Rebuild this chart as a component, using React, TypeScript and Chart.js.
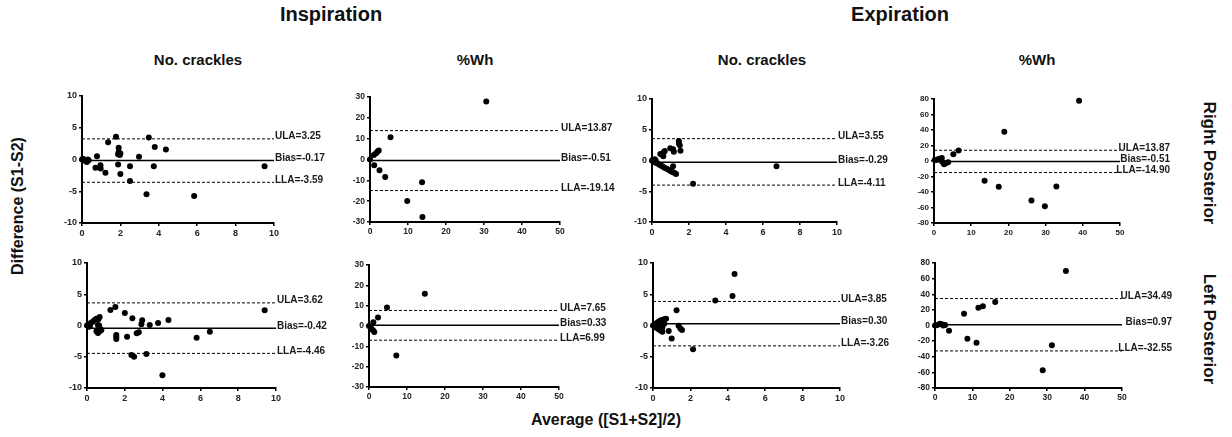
import React, { useEffect, useRef } from "react";
import { Chart, registerables } from "chart.js";

Chart.register(...registerables);

// ---------- data ----------
// Inspiration, Right Posterior, No. crackles
const insRightCracklesAvg = [0, 0.05, 0.15, 0.25, 0.3, 0.35, 0.78, 0.7, 0.96, 0.97, 1.22, 1.36, 1.77, 1.91, 1.91, 1.88, 2.0, 1.97, 1.88, 2.0, 2.5, 2.5, 2.97, 3.36, 3.48, 3.74, 3.79, 4.37, 5.84, 9.51];
const insRightCracklesDiff = [0, 0.1, -0.2, -0.4, 0, -0.1, 0.5, -1.3, -0.9, -1.4, -2.1, 2.7, 3.6, 1.84, 1.2, 0.84, 0.95, 0.7, -0.8, -2.3, -1.05, -3.37, 0.42, -5.47, 3.47, -1.05, 1.95, 1.58, -5.74, -1.05];
const insRightCracklesLines = [3.25, -0.17, -3.59];
const insRightCracklesLabels = ["ULA=3.25", "Bias=-0.17", "LLA=-3.59"];

// Inspiration, Right Posterior, %Wh
const insRightWhAvg = [0, 1.0, 1.1, 1.6, 2.0, 2.3, 2.5, 4.0, 5.4, 9.8, 13.7, 13.8, 30.6];
const insRightWhDiff = [0, 2.2, -2.7, 3.0, 3.9, 4.3, -5.2, -8.4, 10.7, -19.9, -10.9, -27.6, 27.9];
const insRightWhLines = [13.87, -0.51, -14.9];
const insRightWhLabels = ["ULA=13.87", "Bias=-0.51", "LLA=-19.14"];

// Expiration, Right Posterior, No. crackles
const expRightCracklesAvg = [0, 0.05, 0.15, 0.2, 0.1, 0.2, 0.3, 0.4, 0.5, 0.6, 0.7, 0.8, 0.9, 1.0, 1.1, 1.2, 1.3, 0.45, 0.54, 0.63, 0.69, 0.61, 0.99, 1.14, 1.18, 1.14, 1.45, 1.46, 1.5, 1.54, 2.22, 6.73];
const expRightCracklesDiff = [0, 0.1, 0.2, 0, -0.2, -0.35, -0.5, -0.7, -0.85, -1.0, -1.2, -1.35, -1.5, -1.7, -1.85, -2.0, -2.2, 1.07, 0.96, 1.33, 1.55, 0.68, 1.99, 1.82, 1.44, -0.95, 3.19, 2.75, 2.5, 1.6, -3.8, -0.95];
const expRightCracklesLines = [3.55, -0.29, -4.0];
const expRightCracklesLabels = ["ULA=3.55", "Bias=-0.29", "LLA=-4.11"];

// Expiration, Right Posterior, %Wh
const expRightWhAvg = [0.2, 0.6, 1.1, 1.5, 2.1, 2.2, 2.7, 3.1, 3.8, 5.2, 6.6, 13.6, 17.4, 18.9, 26.2, 29.8, 32.9, 39.0];
const expRightWhDiff = [1.3, 1.3, 2.2, 3.0, 3.9, -0.9, -4.3, -3.0, -1.7, 8.6, 13.4, -25.5, -33.3, 37.6, -51.0, -58.4, -32.9, 77.8];
const expRightWhLines = [13.87, -0.51, -14.9];
const expRightWhLabels = ["ULA=13.87", "Bias=-0.51", "LLA=-14.90"];

// Inspiration, Left Posterior, No. crackles
const insLeftCracklesAvg = [0, 0.1, 0.2, 0.3, 0.4, 0.5, 0.6, 0.67, 0.1, 0.15, 0.5, 0.58, 0.67, 0.67, 0.76, 0.64, 0.58, 1.24, 1.5, 1.55, 1.55, 1.55, 2.0, 2.12, 2.4, 2.35, 2.49, 2.63, 2.74, 2.92, 2.88, 3.14, 3.32, 3.76, 3.99, 4.31, 5.8, 6.5, 9.4];
const insLeftCracklesDiff = [0, 0.2, 0.4, 0.6, 0.9, 1.1, 1.0, 1.36, -0.2, -0.1, -0.9, -1.2, -0.9, -0.4, -0.7, 0, 0.1, 2.48, 2.96, -1.52, -1.84, -2.16, 2.0, -1.79, 1.15, -4.72, -4.99, -1.25, -1.09, 0.83, 0.19, -4.56, 0.08, 0.4, -7.97, 0.88, -1.95, -0.99, 2.43];
const insLeftCracklesLines = [3.62, -0.42, -4.46];
const insLeftCracklesLabels = ["ULA=3.62", "Bias=-0.42", "LLA=-4.46"];

// Inspiration, Left Posterior, %Wh
const insLeftWhAvg = [0, 0.6, 1.05, 1.4, 1.14, 2.37, 4.74, 7.19, 14.7];
const insLeftWhDiff = [0, -1.2, -2.05, -3.0, 1.9, 4.19, 9.12, -14.5, 15.9];
const insLeftWhLines = [7.65, 0.33, -6.99];
const insLeftWhLabels = ["ULA=7.65", "Bias=0.33", "LLA=6.99"];

// Expiration, Left Posterior, No. crackles
const expLeftCracklesAvg = [0, 0.1, 0.2, 0.3, 0.4, 0.5, 0.6, 0.7, 0.1, 0.2, 0.3, 0.4, 0.5, 0.2, 0.4, 0.5, 0.6, 0.84, 1.0, 1.26, 1.37, 1.46, 1.55, 2.14, 3.33, 4.25, 4.36];
const expLeftCracklesDiff = [0, 0.2, 0.4, 0.6, 0.8, 0.9, 1.0, 1.1, -0.2, -0.4, -0.6, -0.8, -1.0, 0, 0, -0.3, 0.3, -0.88, -2.06, 2.44, -0.03, -0.46, -0.72, -3.78, 3.99, 4.74, 8.23];
const expLeftCracklesLines = [3.85, 0.3, -3.26];
const expLeftCracklesLabels = ["ULA=3.85", "Bias=0.30", "LLA=-3.26"];

// Expiration, Left Posterior, %Wh
const expLeftWhAvg = [0, 0.6, 1.3, 1.8, 2.2, 2.7, 3.75, 7.77, 8.66, 11.1, 11.6, 12.8, 16.1, 28.8, 31.25, 35.0];
const expLeftWhDiff = [0, 0.6, 2.3, 1.5, 0, 0.6, -6.6, 15.1, -16.9, -22.0, 22.8, 24.5, 30.1, -57.4, -25.4, 69.8];
const expLeftWhLines = [34.49, 0.97, -32.55];
const expLeftWhLabels = ["ULA=34.49", "Bias=0.97", "LLA=-32.55"];

// axis ranges: [xMax, xStep, yMax, yStep]
const cracklesRange = [10, 2, 10, 5];
const insWhRange = [50, 10, 30, 10];
const expWhRange = [50, 10, 80, 20];

// ---------- layout (pixel boxes of plot areas: left, right, top, bottom) ----------
const panels = [
  { avg: insRightCracklesAvg, diff: insRightCracklesDiff, lines: insRightCracklesLines, labels: insRightCracklesLabels, range: cracklesRange, box: [82, 274, 96, 223], align: "left", tick: 9 },
  { avg: insRightWhAvg, diff: insRightWhDiff, lines: insRightWhLines, labels: insRightWhLabels, range: insWhRange, box: [370, 560, 97, 222], align: "left", tick: 8.5 },
  { avg: expRightCracklesAvg, diff: expRightCracklesDiff, lines: expRightCracklesLines, labels: expRightCracklesLabels, range: cracklesRange, box: [652, 837, 99, 222], align: "left", tick: 9 },
  { avg: expRightWhAvg, diff: expRightWhDiff, lines: expRightWhLines, labels: expRightWhLabels, range: expWhRange, box: [934, 1120, 99, 223], align: "right", tick: 8 },
  { avg: insLeftCracklesAvg, diff: insLeftCracklesDiff, lines: insLeftCracklesLines, labels: insLeftCracklesLabels, range: cracklesRange, box: [87, 276, 263, 388], align: "left", tick: 9 },
  { avg: insLeftWhAvg, diff: insLeftWhDiff, lines: insLeftWhLines, labels: insLeftWhLabels, range: insWhRange, box: [369, 559, 265, 387], align: "left", tick: 8.5 },
  { avg: expLeftCracklesAvg, diff: expLeftCracklesDiff, lines: expLeftCracklesLines, labels: expLeftCracklesLabels, range: cracklesRange, box: [653, 840, 263, 388], align: "left", tick: 9 },
  { avg: expLeftWhAvg, diff: expLeftWhDiff, lines: expLeftWhLines, labels: expLeftWhLabels, range: expWhRange, box: [935, 1122, 263, 388], align: "right", tick: 8.5 },
];

const FONT = '"Liberation Sans", Arial, Helvetica, sans-serif';
const YW = 36; // y-axis width
const PT = 10; // top padding
const XH = 20; // x-axis height
const PR = 80; // right padding for labels

function BAChart({ p }: { p: any }) {
  const ref = useRef<HTMLCanvasElement>(null);
  const [x0, x1, yT, yB] = p.box;
  const w = x1 - x0 + YW + PR;
  const h = yB - yT + PT + XH;
  useEffect(() => {
    if (!ref.current) return;
    const [xMax, xStep, yMax, yStep] = p.range;
    const tickFont = { family: FONT, size: p.tick, weight: "bold" as const };
    const labelPlugin = {
      id: "baLabels",
      afterDatasetsDraw(chart: any) {
        const ctx = chart.ctx;
        const ys = chart.scales.y;
        const ca = chart.chartArea;
        ctx.save();
        ctx.font = `bold 10px ${FONT}`;
        ctx.fillStyle = "#1a1a1a";
        ctx.textBaseline = "alphabetic";
        p.labels.forEach((t: string, i: number) => {
          const y = ys.getPixelForValue(p.lines[i]) + 0.5;
          if (p.align === "left") {
            ctx.textAlign = "left";
            ctx.fillText(t, ca.right + 1, y);
          } else {
            ctx.textAlign = "right";
            ctx.fillText(t, ca.right + 50, y);
          }
        });
        ctx.restore();
      },
    };
    const chart = new Chart(ref.current, {
      type: "scatter",
      data: {
        datasets: [
          {
            type: "scatter",
            data: p.avg.map((x: number, i: number) => ({ x, y: p.diff[i] })),
            pointRadius: 3,
            pointBackgroundColor: "#000",
            pointBorderWidth: 0,
            backgroundColor: "#000",
            borderColor: "#000",
            clip: false,
          },
          ...p.lines.map((v: number, i: number) => ({
            type: "line",
            data: [
              { x: 0, y: v },
              { x: xMax, y: v },
            ],
            borderColor: "#000",
            borderWidth: i === 1 ? 1.5 : 1,
            borderDash: i === 1 ? [] : [3, 2],
            pointRadius: 0,
            fill: false,
          })),
        ],
      } as any,
      options: {
        animation: false,
        responsive: false,
        maintainAspectRatio: false,
        devicePixelRatio: 1,
        layout: { padding: { left: 0, top: PT, right: PR, bottom: 0 } },
        plugins: {
          legend: { display: false },
          tooltip: { enabled: false },
        },
        scales: {
          x: {
            type: "linear",
            position: "bottom",
            min: 0,
            max: xMax,
            ticks: { stepSize: xStep, font: tickFont, color: "#222", padding: 2, maxRotation: 0, autoSkip: false },
            grid: { drawOnChartArea: false, drawTicks: true, tickLength: 3, color: "#000", lineWidth: 1.5 },
            border: { display: true, color: "#000", width: 2 },
            afterFit: (s: any) => {
              s.height = XH;
            },
          },
          y: {
            type: "linear",
            position: "left",
            min: -yMax,
            max: yMax,
            ticks: { stepSize: yStep, font: tickFont, color: "#222", padding: 2, autoSkip: false },
            grid: { drawOnChartArea: false, drawTicks: true, tickLength: 3, color: "#000", lineWidth: 1.5 },
            border: { display: true, color: "#000", width: 2 },
            afterFit: (s: any) => {
              s.width = YW;
            },
          },
        },
      } as any,
      plugins: [labelPlugin],
    });
    return () => chart.destroy();
  }, []);
  return (
    <div style={{ position: "absolute", left: x0 - YW, top: yT - PT, width: w, height: h }}>
      <canvas ref={ref} width={w} height={h} style={{ display: "block", width: w, height: h }} />
    </div>
  );
}

const textBase: React.CSSProperties = {
  position: "absolute",
  fontFamily: FONT,
  fontWeight: "bold",
  color: "#111",
  whiteSpace: "nowrap",
  lineHeight: 1,
};

function CenterText({ text, cx, top, size }: { text: string; cx: number; top: number; size: number }) {
  return (
    <div style={{ ...textBase, left: cx - 150, width: 300, top, fontSize: size, textAlign: "center" }}>{text}</div>
  );
}

function RotText({ text, cx, cy, size, deg }: { text: string; cx: number; cy: number; size: number; deg: number }) {
  return (
    <div
      style={{
        ...textBase,
        left: cx,
        top: cy,
        fontSize: size,
        transform: `translate(-50%, -50%) rotate(${deg}deg)`,
      }}
    >
      {text}
    </div>
  );
}

export default function App() {
  return (
    <div style={{ position: "absolute", left: 0, top: 0, width: 1232, height: 437, background: "#fff", overflow: "hidden" }}>
      <CenterText text="Inspiration" cx={331} top={4} size={20} />
      <CenterText text="Expiration" cx={900} top={4} size={20} />
      <CenterText text="No. crackles" cx={198} top={52} size={15} />
      <CenterText text="%Wh" cx={475} top={52} size={15} />
      <CenterText text="No. crackles" cx={762} top={52} size={15} />
      <CenterText text="%Wh" cx={1037} top={52} size={15} />
      <RotText text="Difference (S1-S2)" cx={18} cy={206} size={16} deg={-90} />
      <RotText text="Right Posterior" cx={1209} cy={163} size={17} deg={90} />
      <RotText text="Left Posterior" cx={1209} cy={329} size={17} deg={90} />
      <CenterText text="Average ([S1+S2]/2)" cx={606} top={412} size={16} />
      {panels.map((p, i) => (
        <BAChart key={i} p={p} />
      ))}
    </div>
  );
}
